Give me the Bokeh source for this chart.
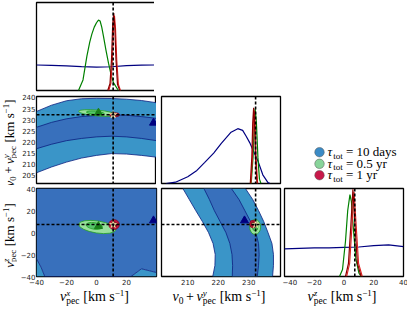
import math
from bokeh.plotting import figure
from bokeh.layouts import gridplot
from bokeh.models import Range1d, Span, Label, FixedTicker
from bokeh.embed import file_html
from bokeh.resources import INLINE

# ---------------- data ----------------
vx_range = [-40, 40]
vy_range = [201.4, 240.4]
vz_range = [-40, 40]
dens_range = [0, 1]
truth_vx, truth_vy, truth_vz = 11.1, 232.24, 7.25

vx_ticks = [-40, -20, 0, 20]
vy_ticks_bottom = [210, 220, 230]
vy_ticks_left = [205, 210, 215, 220, 225, 230, 235, 240]
vz_ticks = [-40, -20, 0, 20, 40]

# best-fit markers
map10_vx, map10_vy, map10_vz = 38.0, 228.6, 10.9
map05_vx, map05_vy, map05_vz = 1.3, 233.1, 5.7

# marginal of v_pec^x
mvx_blue_x = [-40, -30, -20, -10, 0, 10, 20, 30, 40]
mvx_blue = [0.29, 0.286, 0.28, 0.272, 0.266, 0.27, 0.282, 0.288, 0.29]
mvx_green_x = [-12, -9, -6.4, -4.5, -3.1, -1.5, 0, 1.3, 2.4, 3.5, 4.6, 6.3, 8, 9.7, 11.3, 14.6]
mvx_green = [0.0, 0.12, 0.39, 0.55, 0.64, 0.72, 0.77, 0.80, 0.79, 0.72, 0.62, 0.46, 0.31, 0.18, 0.09, 0.0]
mvx_red_x = [7.5, 9, 10, 10.8, 11.5, 12.2, 13, 14, 15.5]
mvx_red = [0.0, 0.08, 0.35, 0.75, 0.88, 0.72, 0.35, 0.07, 0.0]
mvx_red2_x = [8.2, 9.6, 10.6, 11.4, 12.0, 12.7, 13.5, 14.6, 16.0]
mvx_red2 = [0.0, 0.08, 0.35, 0.72, 0.85, 0.70, 0.35, 0.07, 0.0]

# marginal of v0 + v_pec^y
mvy_blue_x = [202.9, 206, 210, 213, 215.5, 218.5, 221, 224.2, 226.4, 228, 229.2, 230.3, 231.3, 233, 234.6, 236.3, 237]
mvy_blue = [0.0, 0.015, 0.077, 0.15, 0.24, 0.35, 0.46, 0.59, 0.63, 0.61, 0.54, 0.47, 0.39, 0.26, 0.10, 0.01, 0.0]
mvy_red_x = [230.5, 231.0, 231.3, 231.6, 231.9, 232.2, 232.7]
mvy_red = [0.0, 0.3, 0.7, 0.87, 0.7, 0.3, 0.0]
mvy_red2_x = [230.7, 231.2, 231.5, 231.8, 232.1, 232.4, 232.9]
mvy_red2 = [0.0, 0.3, 0.68, 0.84, 0.68, 0.3, 0.0]
mvy_green_x = [230.8, 231.4, 231.8, 232.1, 232.5, 233.0, 233.5, 234.0]
mvy_green = [0.0, 0.3, 0.72, 0.86, 0.7, 0.3, 0.05, 0.0]

# marginal of v_pec^z
mvz_blue_x = [-40, -30, -20, -10, 0, 10, 20, 30, 40]
mvz_blue = [0.315, 0.32, 0.325, 0.325, 0.33, 0.335, 0.35, 0.36, 0.34]
mvz_green_x = [-3, -1, 1, 2.5, 4, 5, 6.5, 8, 10, 11.5]
mvz_green = [0.0, 0.08, 0.4, 0.75, 0.93, 0.85, 0.5, 0.2, 0.04, 0.0]
mvz_red_x = [1, 3, 4.5, 6, 7.5, 9, 11.5]
mvz_red = [0.0, 0.15, 0.55, 0.99, 0.55, 0.15, 0.0]
mvz_red2_x = [1.8, 3.8, 5.3, 6.8, 8.3, 9.8, 12.3]
mvz_red2 = [0.0, 0.15, 0.55, 0.96, 0.55, 0.15, 0.0]

# 10-day contours in (vx, vy)
xy_vx = [-40, -30, -20, -10, 0, 10, 20, 30, 40]
xy_2s_top = [233.7, 236.5, 238.5, 239.4, 239.6, 239.5, 239.2, 238.6, 237.6]
xy_1s_top = [226.6, 228.8, 230.4, 231.4, 231.9, 232.2, 232.0, 231.4, 230.6]
xy_1s_bot = [217.0, 219.0, 220.6, 221.6, 222.3, 222.6, 222.3, 221.6, 220.6]
xy_2s_bot = [206.2, 208.8, 211.0, 212.8, 214.0, 214.8, 214.6, 214.0, 213.2]

# 10-day contours in (vx, vz): lower edge of the 1-sigma region
xz_vx = [-40, -37, -34.5, 23, 30, 40]
xz_1s_bot = [-24, -31.5, -40, -40, -33, -36.4]

# 10-day contours in (vy, vz)
yz_vz = [40, 30, 20, 10, 0, -10, -20, -30, -40]
yz_2s_left = [208.4, 210.5, 212.6, 214.8, 216.8, 218.3, 219.0, 218.9, 218.2]
yz_1s_left = [215.3, 217.1, 218.7, 220.6, 222.5, 223.8, 224.5, 224.7, 224.6]
yz_1s_right = [224.3, 226.8, 228.7, 230.6, 232.3, 233.2, 233.4, 233.2, 232.8]
yz_2s_right = [228.9, 231.3, 233.2, 234.9, 236.3, 237.6, 238.1, 238.1, 237.8]

# 0.5 yr and 1 yr contours (ellipses: centre, widths, heights, tilt)
xy_green = dict(x=[0.5, -0.8], y=[233.0, 233.1], w=[25, 12], h=[2.6, 1.5], a=[-0.09, -0.09])
xy_red = dict(x=[12.0, 12.0], y=[232.2, 232.2], w=[6.6, 3.4], h=[1.8, 1.0], a=[0, 0])
xz_green = dict(x=[0.5, -1.5], y=[5.0, 6.0], w=[25, 11], h=[11, 6], a=[-0.15, -0.15])
xz_red = dict(x=[11.7, 11.7], y=[7.2, 7.2], w=[7, 4], h=[9, 5], a=[0, 0])
yz_green = dict(x=[232.1, 232.1], y=[5.0, 5.0], w=[3.6, 1.8], h=[13.6, 7], a=[0, 0])
yz_red = dict(x=[231.4, 231.4], y=[7.7, 7.7], w=[2.2, 1.2], h=[7, 4], a=[0, 0])

legend_labels = ["= 10 days", "= 0.5 yr", "= 1 yr"]
legend_colors = ["#3b8bc6", "#88d49a", "#c8194a"]

# ---------------- style / layout ----------------
C_LIGHT = "#3a95c8"
C_DARK = "#3870bc"
C_EDGE = "#0c1f80"
C_NAVY = "#000080"
G_OUT, G_IN, G_EDGE = "#98e09c", "#55c46a", "#22a022"
R_OUT, R_IN = "#cc1340", "#7a0a1c"
SERIF = "Liberation Serif"

LABW = 17                 # width of the y-label column
FW = [120, 119, 119]      # frame widths per column
BL = [15, 3, 2]
BR = [2, 2, 7]
FH = [88, 87, 88]         # frame heights per row
BT = [2, 3, 3]
BB = [3, 2, 11]
XLAB_H = 21               # height of the x-label row
MID = 0.3                 # offset of a text's middle above its baseline, in em

W_REG = {' ': .25, '[': .333, ']': .333, 'k': .5, 'm': .778, 's': .389, '−': .564,
         '1': .5, '0': .5, '+': .564, 'p': .5, 'e': .444, 'c': .444, 't': .278,
         'o': .5, '=': .564, 'd': .5, 'a': .444, 'y': .5, 'r': .333, '.': .25, '5': .5}
W_IT = {'v': .444, 'x': .444, 'y': .444, 'z': .389, 'τ': .44}


def tw(text, size, italic):
    tbl = W_IT if italic else W_REG
    return sum(tbl.get(c, .5) for c in text) * size


def composite(p, pieces, x0, y0, rotated=False, center=False):
    """pieces: (text, size, rise, italic, advances, gap_after); (x0, y0) is the baseline start"""
    total = sum(tw(t, s, it) + g for t, s, r, it, adv, g in pieces if adv)
    pos = -total / 2 if center else 0
    for t, s, r, it, adv, g in pieces:
        up = r + MID * s
        if rotated:
            lx, ly = x0 - up, y0 + pos
        else:
            lx, ly = x0 + pos, y0 + up
        p.add_layout(Label(x=lx, y=ly, x_units="screen", y_units="screen", text=t,
                           angle=math.pi / 2 if rotated else 0,
                           text_font=SERIF, text_font_size=f"{s}px",
                           text_font_style="italic" if it else "normal",
                           text_line_height=1.0,
                           text_baseline="middle", text_align="left", text_color="black"))
        if adv:
            pos += tw(t, s, it) + g


def label_v(comp, v0=False, big=15, small=10, sup_size=None, sup_rise=0.37):
    sub, sup = -0.22 * big, sup_rise * big
    ss = sup_size or small
    pcs = []
    if v0:
        pcs += [("v", big, 0, True, True, 0), ("0", small, sub, False, True, 2.5),
                ("+", big, 0, False, True, 2.5)]
    pcs += [("v", big, 0, True, True, 0), (comp, ss, sup, True, False, 0),
            ("pec", small, sub, False, True, 0.27 * big),
            ("[km s", big, 0, False, True, 0), ("−1", ss, sup, False, True, 0),
            ("]", big, 0, False, True, 0)]
    return pcs


def blank_fig(width, height, bl=0, br=0):
    p = figure(frame_width=width, frame_height=height, x_range=Range1d(0, width), y_range=Range1d(0, height),
               x_axis_location=None, y_axis_location=None,
               min_border_left=bl, min_border_right=br, min_border_top=0, min_border_bottom=0,
               toolbar_location=None, output_backend="svg",
               background_fill_color="white", border_fill_color="white")
    p.xgrid.visible = False
    p.ygrid.visible = False
    p.outline_line_color = None
    return p


def make_fig(row, col, xr, yr, xticks=None, yticks=None, outline=True):
    p = figure(frame_width=FW[col], frame_height=FH[row],
               x_range=Range1d(*xr), y_range=Range1d(*yr),
               x_axis_location="below" if xticks else None,
               y_axis_location="left" if yticks else None,
               min_border_left=BL[col], min_border_right=BR[col],
               min_border_top=BT[row], min_border_bottom=BB[row],
               toolbar_location=None, output_backend="svg",
               background_fill_color="white", border_fill_color="white")
    p.xgrid.visible = False
    p.ygrid.visible = False
    p.outline_line_color = "black" if outline else None
    p.outline_line_width = 1.3
    for ax, t, so in ((p.xaxis, xticks, 2), (p.yaxis, yticks, 1)):
        if t:
            ax.ticker = FixedTicker(ticks=t)
            ax.axis_line_color = None
            ax.major_tick_line_color = None
            ax.minor_tick_line_color = None
            ax.major_tick_out = 0
            ax.major_tick_in = 0
            ax.minor_tick_out = 0
            ax.minor_tick_in = 0
            ax.major_label_standoff = so
            ax.major_label_text_font = "DejaVu Sans"
            ax.major_label_text_font_size = "7px"
            ax.major_label_text_color = "#222222"
    return p


def span(p, loc, dim):
    p.add_layout(Span(location=loc, dimension=dim, line_color="black",
                      line_dash="3 2", line_width=1.6))


def ellipses(p, d, out_col, in_col, edge):
    p.ellipse(x=d["x"][:1], y=d["y"][:1], width=d["w"][:1], height=d["h"][:1], angle=d["a"][:1],
              fill_color=out_col, line_color=edge, line_width=0.8)
    p.ellipse(x=d["x"][1:], y=d["y"][1:], width=d["w"][1:], height=d["h"][1:], angle=d["a"][1:],
              fill_color=in_col, line_color=edge, line_width=0.8)


def star(p, x, y):
    p.scatter([x], [y], marker="star", size=8, fill_color="#fffbd0", line_color="#f0e090", line_width=0.5)


# ---------------- row 0: vx marginal ----------------
f00 = make_fig(0, 0, vx_range, dens_range)
f00.line(mvx_blue_x, mvx_blue, color=C_NAVY, line_width=1.2)
f00.line(mvx_green_x, mvx_green, color="green", line_width=1.2)
f00.line(mvx_red2_x, mvx_red2, color="#e02020", line_width=1.1)
f00.line(mvx_red_x, mvx_red, color="#8b0000", line_width=1.2)
span(f00, truth_vx, "height")

# ---------------- row 1 ----------------
f10 = make_fig(1, 0, vx_range, vy_range, yticks=vy_ticks_left)
f10.varea(x=xy_vx, y1=xy_2s_bot, y2=xy_2s_top, fill_color=C_LIGHT)
f10.varea(x=xy_vx, y1=xy_1s_bot, y2=xy_1s_top, fill_color=C_DARK)
for arr in (xy_2s_top, xy_1s_top, xy_1s_bot, xy_2s_bot):
    f10.line(xy_vx, arr, color=C_EDGE, line_width=0.8)
ellipses(f10, xy_green, G_OUT, G_IN, G_EDGE)
ellipses(f10, xy_red, R_OUT, R_IN, R_IN)
f10.scatter([map10_vx], [map10_vy], marker="triangle", size=8, color=C_NAVY)
f10.scatter([map05_vx], [map05_vy], marker="triangle", size=8, color="#1a801a")
span(f10, truth_vx, "height")
span(f10, truth_vy, "width")
star(f10, truth_vx, truth_vy)

f11 = make_fig(1, 1, vy_range, dens_range)
f11.line(mvy_blue_x, mvy_blue, color=C_NAVY, line_width=1.2)
f11.line(mvy_green_x, mvy_green, color="green", line_width=1.2)
f11.line(mvy_red2_x, mvy_red2, color="#e02020", line_width=1.1)
f11.line(mvy_red_x, mvy_red, color="#8b0000", line_width=1.2)
span(f11, truth_vy, "height")

fleg = make_fig(1, 2, [0, FW[2]], [0, FH[1]], outline=False)
leg_y = [31.3, 19.7, 8.3]
fleg.scatter([35, 35, 35], leg_y, size=9.5, fill_color=legend_colors, line_color="#555555", line_width=0.5)
for yy, lab in zip(leg_y, legend_labels):
    composite(fleg, [("τ", 13, 0, True, True, 0), ("tot", 9, -2.6, False, True, 3.2),
                     (lab, 13, 0, False, True, 0)], 43, yy - 3.4)

# ---------------- row 2 ----------------
f20 = make_fig(2, 0, vx_range, vz_range, xticks=vx_ticks, yticks=vz_ticks)
f20.varea(x=xz_vx, y1=[vz_range[0]] * len(xz_vx), y2=xz_1s_bot, fill_color=C_LIGHT)
f20.varea(x=xz_vx, y1=xz_1s_bot, y2=[vz_range[1]] * len(xz_vx), fill_color=C_DARK)
f20.line(xz_vx, xz_1s_bot, color=C_EDGE, line_width=0.8)
ellipses(f20, xz_green, G_OUT, G_IN, G_EDGE)
ellipses(f20, xz_red, R_OUT, R_IN, R_IN)
f20.scatter([map10_vx], [map10_vz], marker="triangle", size=8, color=C_NAVY)
f20.scatter([map05_vx], [map05_vz], marker="triangle", size=8, color="#1a801a")
span(f20, truth_vx, "height")
span(f20, truth_vz, "width")
star(f20, truth_vx, truth_vz)

f21 = make_fig(2, 1, vy_range, vz_range, xticks=vy_ticks_bottom)
f21.harea(y=yz_vz, x1=yz_2s_left, x2=yz_2s_right, fill_color=C_LIGHT)
f21.harea(y=yz_vz, x1=yz_1s_left, x2=yz_1s_right, fill_color=C_DARK)
for arr in (yz_2s_left, yz_1s_left, yz_1s_right, yz_2s_right):
    f21.line(arr, yz_vz, color=C_EDGE, line_width=0.8)
f21.scatter([map10_vy], [map10_vz], marker="triangle", size=8, color=C_NAVY)
ellipses(f21, yz_green, G_OUT, G_IN, G_EDGE)
ellipses(f21, yz_red, R_OUT, R_IN, R_IN)
span(f21, truth_vy, "height")
span(f21, truth_vz, "width")
star(f21, truth_vy, truth_vz)

f22 = make_fig(2, 2, vz_range, dens_range, xticks=vz_ticks)
f22.line(mvz_blue_x, mvz_blue, color=C_NAVY, line_width=1.2)
f22.line(mvz_green_x, mvz_green, color="green", line_width=1.2)
f22.line(mvz_red2_x, mvz_red2, color="#e02020", line_width=1.1)
f22.line(mvz_red_x, mvz_red, color="#8b0000", line_width=1.2)
span(f22, truth_vz, "height")

# ---------------- axis-label cells ----------------
yl1 = blank_fig(LABW, BT[1] + FH[1] + BB[1])
composite(yl1, label_v("y", v0=True, big=13, small=8.8), 12.5, BB[1] + FH[1] / 2, rotated=True, center=True)
yl2 = blank_fig(LABW, BT[2] + FH[2] + BB[2])
composite(yl2, label_v("z", big=13, small=8.8), 12.5, BB[2] + FH[2] / 2, rotated=True, center=True)

xl = []
for col, comp, v0 in ((0, "x", False), (1, "y", True), (2, "z", False)):
    q = blank_fig(FW[col], XLAB_H, BL[col], BR[col])
    composite(q, label_v(comp, v0=v0, big=14, small=9.5, sup_size=9, sup_rise=0.32),
              FW[col] / 2 - 2, 8, center=True)
    xl.append(q)

grid = gridplot([[None, f00, None, None],
                 [yl1, f10, f11, fleg],
                 [yl2, f20, f21, f22],
                 [None, xl[0], xl[1], xl[2]]], toolbar_location=None)

open("out.html", "w").write(file_html(grid, INLINE))
